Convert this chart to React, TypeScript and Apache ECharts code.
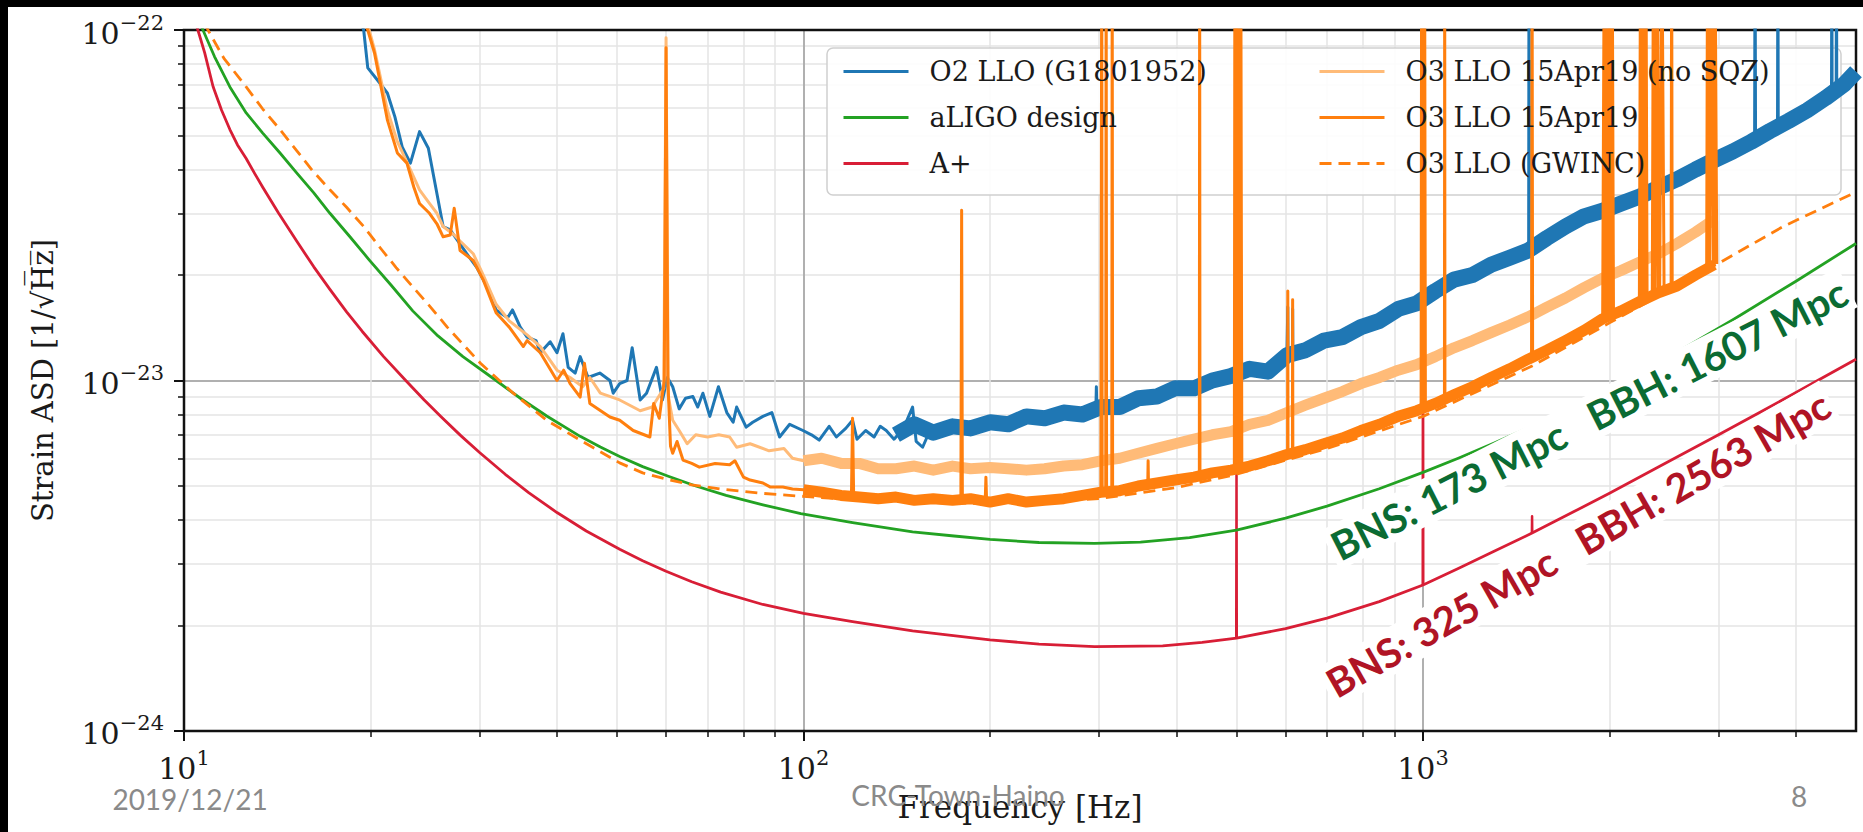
import React, { useEffect, useRef } from "react";
import * as echarts from "echarts";

// All strain values below are in units of 1e-24 (1/sqrt(Hz)); frequencies in Hz.
const EXP_OFFSET = -24;

const bandFreqs = [100, 107, 115, 123, 132, 141, 151, 162, 174, 186, 200, 214, 229, 245, 263, 282, 302, 324, 347, 372, 398, 427, 457, 490, 525, 562, 603, 646, 692, 741, 794, 851, 912, 977, 1047, 1122, 1202, 1288, 1380, 1479, 1585, 1698, 1820, 1950, 2089, 2239, 2399, 2570, 2754, 2951, 3162, 3388, 3631, 3890, 4169, 4467, 4786, 5000];

// O2 LLO (G1801952) – band values at bandFreqs (null = not part of band)
const o2Band = [null, null, null, null, null, 7.0, 7.5, 7.1, 7.4, 7.3, 7.6, 7.5, 7.9, 7.8, 8.1, 8.0, 8.4, 8.4, 8.9, 9.0, 9.5, 9.5, 10.0, 10.3, 10.8, 10.6, 11.8, 12.2, 13.0, 13.3, 14.2, 14.8, 16.0, 16.6, 18.0, 19.4, 20.0, 21.4, 22.4, 23.5, 25.5, 27.5, 29.4, 30.5, 32.0, 33.5, 35.5, 37.5, 40.0, 42.5, 45.0, 48.0, 51.5, 55.0, 59.0, 64.0, 70.0, 76.0];
// O3 LLO 15Apr19 (no SQZ)
const noSqzBand = [5.9, 6.0, 5.8, 5.8, 5.6, 5.6, 5.7, 5.55, 5.7, 5.6, 5.65, 5.6, 5.55, 5.6, 5.7, 5.75, 5.9, 6.0, 6.2, 6.4, 6.6, 6.8, 7.0, 7.15, 7.5, 7.7, 8.1, 8.5, 8.9, 9.3, 9.8, 10.2, 10.7, 11.1, 11.7, 12.4, 13.0, 13.7, 14.4, 15.2, 16.2, 17.2, 18.4, 19.6, 20.6, 21.8, 23.0, 24.6, 26.5, 28.8, null, null, null, null, null, null, null, null];
// O3 LLO 15Apr19
const o3Band = [4.88, 4.8, 4.7, 4.65, 4.6, 4.65, 4.55, 4.6, 4.55, 4.6, 4.5, 4.6, 4.5, 4.55, 4.6, 4.7, 4.8, 4.85, 5.0, 5.1, 5.2, 5.3, 5.45, 5.55, 5.7, 5.9, 6.15, 6.35, 6.6, 6.85, 7.2, 7.5, 7.9, 8.2, 8.6, 9.1, 9.6, 10.2, 10.8, 11.5, 12.2, 13.0, 13.9, 15.0, 15.8, 16.8, 17.8, 18.6, 20.0, 21.4, null, null, null, null, null, null, null, null];

// Low-frequency (thin line) parts
const o2Low = [[19.3, 105], [19.5, 100], [19.8, 78], [20.7, 70.6], [21.3, 66], [21.9, 56.5], [22.5, 46.4], [23.2, 41.7], [24.0, 51.3], [24.8, 46], [26.2, 27.5], [26.9, 26.9], [28.6, 23], [29.7, 21], [31.2, 17.8], [31.9, 15.9], [33.3, 15.1], [33.9, 15.9], [34.9, 14.2], [35.8, 13.3], [37.0, 13], [37.6, 12], [39.0, 12.9], [40.0, 12], [40.9, 13.6], [41.7, 10.9], [42.8, 10.5], [43.6, 11.7], [44.9, 10.2], [46.9, 10.5], [48.7, 10], [49.3, 9.2], [50.5, 9.8], [51.9, 10], [52.9, 12.4], [54.5, 8.8], [55.8, 9.2], [57.9, 10.9], [59.2, 8.8], [60.3, 10.2], [61.5, 9.6], [63.0, 8.3], [64.5, 8.9], [66.3, 9.0], [67.5, 8.4], [68.8, 9.2], [70.6, 7.9], [72.9, 9.6], [75.2, 8.1], [77.0, 7.6], [78.0, 8.4], [80.8, 7.36], [82.8, 7.6], [86, 7.9], [88.9, 8.1], [91.5, 6.9], [95, 7.5], [99.8, 7.2], [103, 7.0], [106, 6.76], [110, 7.4], [113, 6.9], [117, 7.3], [120, 7.7], [122, 6.8], [126, 7.2], [130, 6.9], [133, 7.4], [136, 7.2], [140, 6.8], [145, 7.3], [150, 8.4], [152, 6.7], [155.7, 6.45], [160, 7.2]];
const noSqzLow = [[19.7, 105], [19.9, 100], [20.3, 88], [21.3, 59], [22.1, 48], [22.9, 42], [23.5, 38], [24.0, 35], [24.9, 32], [25.6, 30], [26.2, 27.5], [27.3, 26], [27.9, 25], [29.3, 23], [30.4, 20], [31.9, 16.5], [33.5, 14.8], [35.8, 13.5], [37.6, 12.5], [40.0, 10.7], [42, 10.2], [44, 9.6], [45.2, 10.2], [47, 9.2], [50.5, 8.8], [54.5, 8.2], [57, 8.4], [59.5, 9.5], [60, 95], [60.5, 9.0], [61.5, 7.7], [63, 7.2], [64.9, 6.6], [67, 7.0], [70, 6.9], [73, 7.0], [76, 6.9], [78, 6.45], [82, 6.6], [88, 6.3], [93, 6.4], [96, 6.0]];
const o3Low = [[19.6, 105], [19.8, 100], [20.3, 86], [21.3, 55.3], [22.1, 44.6], [22.9, 41.7], [23.5, 35.6], [24.0, 32], [24.9, 30], [25.6, 28], [26.2, 25.7], [26.9, 26], [27.3, 31], [27.9, 23.5], [29.3, 22], [30.4, 19.4], [31.9, 15.6], [33.5, 14.2], [35.3, 12.5], [35.8, 13], [37.6, 12], [40.0, 10], [41, 10.7], [42, 9.8], [43.6, 8.97], [44.3, 11.2], [45.2, 8.6], [48.7, 7.87], [50.5, 7.7], [53.1, 7.2], [56.5, 6.9], [57.3, 8.6], [58.5, 7.8], [59.6, 10], [60.0, 89], [60.4, 10], [61.0, 6.5], [61.5, 6.2], [62.5, 6.7], [63.9, 5.93], [66, 5.8], [67.9, 5.66], [72, 5.8], [76, 5.75], [77.5, 5.9], [80, 5.3], [82, 5.2], [86, 5.1], [88.3, 4.97], [92.6, 4.97], [96, 4.9]];

// Narrow lines (spikes); 200 means the line leaves the top of the plot
const o2Spikes = [[296.5, 8.4], [297, 9.6], [297.5, 8.4], [499.5, 10.3], [500, 17.3], [500.5, 10.3], [604.5, 11.8], [605, 16.2], [605.5, 11.8], [615.5, 11.9], [616, 16], [616.5, 11.9], [1481, 23.4], [1483, 200], [1485, 23.4], [3430, 49], [3436, 200], [3442, 49], [3735, 53.5], [3740, 200], [3745, 53.5], [4565, 66], [4570, 200], [4575, 66], [4645, 68], [4650, 200], [4655, 68]];
const noSqzSpikes = [[499, 7.1], [500, 200], [501, 7.1], [999, 11.1], [1000, 200], [1001, 11.1], [1999, 19.9], [2000, 200], [2001, 19.9]];
const o3Spikes = [[119.5, 4.67], [120, 7.8], [120.5, 4.67], [179.5, 4.55], [180, 30.6], [180.5, 4.55], [196.5, 4.55], [197, 5.3], [197.5, 4.55], [302.5, 4.8], [303, 200], [303.5, 4.8], [307.5, 4.8], [308, 200], [308.5, 4.8], [314.5, 4.85], [315, 200], [315.5, 4.85], [359.5, 5.05], [360, 5.9], [360.5, 5.05], [435.5, 5.35], [436, 200], [436.5, 5.35], [496, 5.55], [497, 200], [498, 5.55], [500, 200], [502, 5.6], [504, 200], [506, 5.6], [508, 200], [510, 5.6], [604.5, 6.1], [605, 18], [605.5, 6.1], [615.5, 6.2], [616, 17], [616.5, 6.2], [993, 8.15], [995, 200], [998, 8.2], [1000, 200], [1003, 8.25], [1006, 200], [1009, 8.3], [1083, 8.8], [1084, 200], [1085, 8.8], [1497, 11.5], [1500, 200], [1503, 11.5], [1955, 15.0], [1962, 200], [1970, 15.1], [1980, 200], [1990, 15.2], [2000, 200], [2010, 15.4], [2020, 200], [2030, 15.5], [2235, 16.8], [2245, 200], [2255, 16.9], [2265, 200], [2280, 17.0], [2290, 200], [2300, 17.1], [2345, 17.4], [2355, 200], [2370, 17.5], [2390, 200], [2410, 17.9], [2430, 200], [2450, 18.1], [2515, 18.4], [2520, 200], [2525, 18.4], [2870, 20.6], [2880, 200], [2900, 20.8], [2920, 200], [2940, 21.2], [2960, 200], [2980, 21.5]];

// Smooth model curves (read densely)
const aligoDesign = [[10.6, 105], [10.73, 100], [11.2, 84], [11.86, 68.8], [12.6, 58], [13.4, 50.8], [14.3, 44.5], [15.2, 39.1], [16.2, 34.3], [17.2, 30], [18.5, 25.8], [19.9, 22.1], [21.6, 18.7], [23.4, 15.8], [25.7, 13.4], [28.2, 11.7], [31.9, 10], [35, 8.87], [38.5, 7.92], [43.6, 6.93], [47, 6.46], [50.5, 6.07], [55, 5.68], [60.5, 5.33], [67, 5.0], [75, 4.7], [86, 4.42], [99, 4.17], [120, 3.93], [150, 3.7], [175, 3.6], [200, 3.52], [240, 3.45], [295, 3.43], [350, 3.46], [420, 3.56], [500, 3.74], [600, 4.05], [700, 4.38], [850, 4.91], [1000, 5.47], [1140, 6.0], [1300, 6.62], [1500, 7.41], [1750, 8.43], [2030, 9.59], [2500, 11.69], [3160, 14.88], [4000, 19.2], [5000, 24.6]];
const aPlus = [[10.4, 107], [10.53, 100], [10.8, 86], [11.14, 69], [11.5, 59], [11.86, 52], [12.2, 47], [12.6, 43], [13.0, 39], [13.4, 35.6], [14.2, 30.1], [15.2, 25.0], [16.2, 21.1], [17.2, 18.2], [18.3, 15.7], [19.4, 13.8], [21, 11.7], [22.8, 10.0], [24.4, 8.81], [26, 7.88], [28, 6.95], [30, 6.23], [33, 5.4], [36, 4.79], [40, 4.2], [44.6, 3.72], [50.5, 3.3], [55, 3.06], [60, 2.855], [66, 2.666], [73.5, 2.49], [86, 2.296], [100, 2.166], [120, 2.05], [150, 1.93], [200, 1.82], [240, 1.77], [295, 1.74], [380, 1.75], [440, 1.79], [500, 1.84], [600, 1.96], [700, 2.1], [850, 2.34], [1000, 2.61], [1140, 2.91], [1300, 3.25], [1500, 3.67], [1750, 4.22], [2000, 4.77], [2415, 5.7], [3000, 7.0], [3500, 8.12], [4000, 9.24], [5000, 11.5]];
const aPlusLines = [[499.5, 1.84], [500, 5.45], [500.5, 1.84], [700, "-"], [999, 2.61], [1000, 23.5], [1001, 2.61], [1200, "-"], [1499, 3.67], [1500, 4.1], [1501, 3.67]];
const gwinc = [[10.8, 105], [10.93, 100], [11.6, 83], [12.6, 68.8], [13.4, 59.5], [14.3, 51.9], [15.2, 45.3], [16.1, 39.8], [17.2, 35], [18.3, 31.2], [19.5, 27.5], [20.7, 24], [22, 21], [23.4, 18.5], [25, 16.2], [26.6, 14.2], [28.3, 12.6], [30.1, 11.2], [34, 9.2], [38.5, 7.7], [43.6, 6.76], [50.5, 5.82], [55, 5.45], [60.8, 5.2], [66, 5.04], [73.5, 4.9], [85, 4.77], [100, 4.67], [120, 4.57], [150, 4.5], [200, 4.45], [300, 4.6], [400, 4.95], [500, 5.4], [700, 6.4], [1000, 7.9], [1500, 11.0], [2000, 14.6], [3000, 21.6], [3800, 27.4], [5000, 34.5]];

// Axes (y in units of 1e-24)
const xMajor = [10, 100, 1000];
const xMinor = [20, 30, 40, 50, 60, 70, 80, 90, 200, 300, 400, 500, 600, 700, 800, 900, 2000, 3000, 4000];
const yMajor = [1, 10, 100];
const yMinor = [2, 3, 4, 5, 6, 7, 8, 9, 20, 30, 40, 50, 60, 70, 80, 90];
const X_MIN = 10, X_MAX = 5000, Y_MIN = 1, Y_MAX = 100;

const legendCol1 = ["O2 LLO (G1801952)", "aLIGO design", "A+"];
const legendCol2 = ["O3 LLO 15Apr19 (no SQZ)", "O3 LLO 15Apr19", "O3 LLO (GWINC)"];

const BLUE = "#1f77b4";
const GREEN = "#23a223";
const RED = "#d81e36";
const ORANGE = "#ff7f0e";
const LIGHT = "#ffbb78";
const SERIF = "DejaVu Serif";
const G = { left: 184, top: 30, right: 1856, bottom: 731 };

const band = (vals: (number | null)[], after = 0) =>
  bandFreqs.map((f, i) => [f, vals[i]] as [number, number | null]).filter((p) => p[1] != null && p[0] > after) as number[][];
const merged = (...parts: number[][][]) => parts.flat().slice().sort((a, b) => a[0] - b[0]);
const inside = (vals: number[], lo: number, hi: number) => vals.map((v) => (v <= lo ? v * 1.000001 : v >= hi ? v * 0.999999 : v));

const powLabel = (offset: number) => (v: number) => {
  const e = Math.round(Math.log10(v)) + offset;
  return `{b|10}{s|${e < 0 ? "\u2212" + -e : e}}`;
};
const powRich = {
  b: { fontFamily: SERIF, fontSize: 30, color: "#1a1a1a", lineHeight: 36, verticalAlign: "bottom" },
  s: { fontFamily: SERIF, fontSize: 21, color: "#1a1a1a", lineHeight: 22, verticalAlign: "top" },
};

function lineSeries(name: string, data: any[], color: string, width: number, dashed = false) {
  return {
    type: "line",
    name,
    data,
    showSymbol: false,
    symbol: "none",
    silent: true,
    clip: true,
    animation: false,
    connectNulls: false,
    xAxisIndex: 0,
    yAxisIndex: 0,
    itemStyle: { color },
    lineStyle: { color, width, type: dashed ? [12, 7] : "solid", join: "round", cap: "butt" },
    emphasis: { disabled: true },
  };
}

export default function App() {
  const ref = useRef<HTMLDivElement>(null);
  useEffect(() => {
    if (!ref.current) return;
    const chart = echarts.init(ref.current, null, { renderer: "svg" });

    const o2Thin = merged(o2Low, band(o2Band, 160), o2Spikes);
    const noSqzThin = merged(noSqzLow, band(noSqzBand), noSqzSpikes);
    const o3Thin = merged(o3Low, band(o3Band), o3Spikes);

    const legendCommon = {
      orient: "vertical",
      top: 53,
      itemWidth: 65,
      itemHeight: 16,
      itemGap: 19,
      selectedMode: false,
      lineStyle: { width: 3 },
      itemStyle: { color: "rgba(0,0,0,0)", borderColor: "rgba(0,0,0,0)", borderWidth: 0, opacity: 0 },
      formatter: (n: string) => `{t|${n}}`,
      textStyle: {
        fontFamily: SERIF,
        fontSize: 27,
        color: "#1a1a1a",
        rich: { t: { fontFamily: SERIF, fontSize: 27, color: "#1a1a1a", lineHeight: 34, padding: [0, 0, 0, 16] } },
      },
      z: 5,
    };

    const option: any = {
      animation: false,
      backgroundColor: "#ffffff",
      grid: {
        left: G.left,
        right: 1863 - G.right,
        top: G.top,
        bottom: 832 - G.bottom,
        show: false,
        containLabel: false,
        outerBoundsMode: "none",
      },
      xAxis: [
        {
          type: "log",
          logBase: 10,
          min: X_MIN,
          max: X_MAX,
          position: "bottom",
          axisLine: { show: false },
          axisTick: { show: true, customValues: inside(xMajor, X_MIN, X_MAX), length: 10, lineStyle: { color: "#111", width: 2 } },
          axisLabel: { show: true, customValues: inside(xMajor, X_MIN, X_MAX), margin: 16, formatter: powLabel(0), rich: powRich },
          splitLine: { show: true, lineStyle: { color: "#b0b0b0", width: 2 } },
          name: "Frequency [Hz]",
          nameLocation: "middle",
          nameGap: 60,
          nameTextStyle: { fontFamily: SERIF, fontSize: 31, color: "#1a1a1a" },
        },
        {
          type: "log",
          logBase: 10,
          min: X_MIN,
          max: X_MAX,
          position: "bottom",
          axisLine: { show: false },
          axisTick: { show: true, customValues: xMinor, length: 6, lineStyle: { color: "#111", width: 1.5 } },
          axisLabel: { show: false },
          splitLine: { show: true, lineStyle: { color: "#e4e4e4", width: 1.5 } },
        },
      ],
      yAxis: [
        {
          type: "log",
          logBase: 10,
          min: Y_MIN,
          max: Y_MAX,
          position: "left",
          axisLine: { show: false },
          axisTick: { show: true, customValues: inside(yMajor, Y_MIN, Y_MAX), length: 10, lineStyle: { color: "#111", width: 2 } },
          axisLabel: { show: true, customValues: inside(yMajor, Y_MIN, Y_MAX), margin: 20, formatter: powLabel(EXP_OFFSET), rich: powRich },
          splitLine: { show: true, lineStyle: { color: "#b0b0b0", width: 2 } },
          name: "Strain ASD [1/\u221AH\u0305z\u0305]",
          nameLocation: "middle",
          nameGap: 127,
          nameTextStyle: { fontFamily: SERIF, fontSize: 29, color: "#1a1a1a" },
        },
        {
          type: "log",
          logBase: 10,
          min: Y_MIN,
          max: Y_MAX,
          position: "left",
          axisLine: { show: false },
          axisTick: { show: true, customValues: yMinor, length: 6, lineStyle: { color: "#111", width: 1.5 } },
          axisLabel: { show: false },
          splitLine: { show: true, lineStyle: { color: "#e4e4e4", width: 1.5 } },
        },
      ],
      legend: [
        { ...legendCommon, left: 837, data: legendCol1 },
        { ...legendCommon, left: 1313, data: legendCol2 },
      ],
      series: [
        lineSeries("A+", aPlus, RED, 2.8),
        lineSeries("A+", aPlusLines, RED, 2.5),
        lineSeries("aLIGO design", aligoDesign, GREEN, 2.8),
        lineSeries("O3 LLO (GWINC)", gwinc, ORANGE, 2.8, true),
        lineSeries("O2 LLO (G1801952)", o2Thin, BLUE, 3),
        lineSeries("O2 LLO (G1801952)", band(o2Band), BLUE, 16),
        lineSeries("O3 LLO 15Apr19 (no SQZ)", noSqzThin, LIGHT, 3),
        lineSeries("O3 LLO 15Apr19 (no SQZ)", band(noSqzBand), LIGHT, 11),
        lineSeries("O3 LLO 15Apr19", o3Thin, ORANGE, 3),
        lineSeries("O3 LLO 15Apr19", band(o3Band), ORANGE, 11),
      ],
      graphic: [
        {
          type: "rect",
          x: G.left,
          y: G.top,
          z: 2.5,
          silent: true,
          shape: { x: 0, y: 0, width: G.right - G.left, height: G.bottom - G.top },
          style: { fill: "none", stroke: "#111", lineWidth: 2.5 },
        },
        {
          type: "rect",
          x: 827,
          y: 48,
          z: 3,
          shape: { x: 0, y: 0, width: 1014, height: 147, r: 6 },
          style: { fill: "rgba(255,255,255,0.88)", stroke: "#cfcfcf", lineWidth: 1.5 },
        },
        {
          type: "text",
          x: 1589,
          y: 419,
          rotation: 0.47,
          z: 20,
          style: {
            text: "BNS: 173 Mpc   BBH: 1607 Mpc",
            fill: "#0b6b33",
            font: "bold 40px Lato",
            align: "center",
            verticalAlign: "middle",
            backgroundColor: "#ffffff",
            padding: [2, 4, 2, 4],
          },
        },
        {
          type: "text",
          x: 1578,
          y: 544,
          rotation: 0.52,
          z: 20,
          style: {
            text: "BNS: 325 Mpc   BBH: 2563 Mpc",
            fill: "#b01425",
            font: "bold 40px Lato",
            align: "center",
            verticalAlign: "middle",
            backgroundColor: "#ffffff",
            padding: [2, 4, 2, 4],
          },
        },
        {
          type: "text",
          x: 190,
          y: 799,
          z: 20,
          style: { text: "2019/12/21", fill: "#8a8a8a", font: "28px Lato", align: "center", verticalAlign: "middle" },
        },
        {
          type: "text",
          x: 958,
          y: 795,
          z: 20,
          style: { text: "CRC-Town-Haino", fill: "#8a8a8a", font: "28px Lato", align: "center", verticalAlign: "middle" },
        },
        {
          type: "text",
          x: 1799,
          y: 796,
          z: 20,
          style: { text: "8", fill: "#8a8a8a", font: "28px Lato", align: "center", verticalAlign: "middle" },
        },
        { type: "rect", x: 0, y: 0, z: 30, shape: { x: 0, y: 0, width: 1863, height: 7 }, style: { fill: "#000" } },
        { type: "rect", x: 0, y: 0, z: 30, shape: { x: 0, y: 0, width: 8, height: 832 }, style: { fill: "#000" } },
      ],
    };
    chart.setOption(option);
    return () => chart.dispose();
  }, []);
  return (
    <div
      ref={ref}
      style={{ position: "fixed", left: 0, top: 0, width: 1863, height: 832, background: "#fff" }}
    />
  );
}
